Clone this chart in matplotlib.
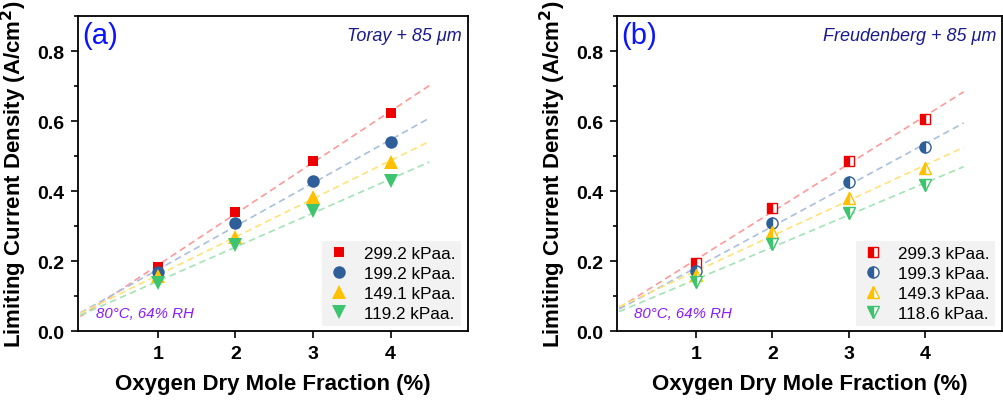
import numpy as np
import matplotlib
matplotlib.use("Agg")
import matplotlib.pyplot as plt
from matplotlib.ticker import MultipleLocator

# Oxygen dry mole fraction (%)
x_o2 = [1, 2, 3, 4]

# Panel (a): Toray + 85 um
labels_a = ["299.2 kPaa.", "199.2 kPaa.", "149.1 kPaa.", "119.2 kPaa."]
ilim_a_299 = [0.183, 0.340, 0.486, 0.623]
ilim_a_199 = [0.168, 0.308, 0.428, 0.540]
ilim_a_149 = [0.157, 0.270, 0.383, 0.483]
ilim_a_119 = [0.136, 0.246, 0.343, 0.428]

# Panel (b): Freudenberg + 85 um
labels_b = ["299.3 kPaa.", "199.3 kPaa.", "149.3 kPaa.", "118.6 kPaa."]
ilim_b_299 = [0.194, 0.351, 0.486, 0.606]
ilim_b_199 = [0.171, 0.309, 0.426, 0.526]
ilim_b_149 = [0.161, 0.283, 0.380, 0.466]
ilim_b_118 = [0.140, 0.248, 0.337, 0.417]

marker_colors = ["#ee0000", "#2f5f98", "#ffc000", "#3cc46e"]
fit_colors = ["#ff9a9a", "#a9c0dc", "#ffe37a", "#a3e3b6"]
markers = ["s", "o", "^", "v"]
marker_sizes = [7.5, 9, 9.5, 9.5]

plt.rcParams["font.family"] = ["Liberation Sans", "DejaVu Sans"]

fig = plt.figure(figsize=(10.04, 4.02), dpi=100)
ax_a = fig.add_axes([0.0777, 0.1741, 0.3885, 0.7836])
ax_b = fig.add_axes([0.6145, 0.1741, 0.3835, 0.7836])


def draw_panel(ax, series, labels, half_filled, tag, title):
    x = np.array(x_o2, dtype=float)
    xfit = np.linspace(0.0, 4.5, 50)
    for i, y in enumerate(series):
        y = np.array(y, dtype=float)
        k, b = np.polyfit(x, y, 1)
        ax.plot(xfit, k * xfit + b, ls=(0, (4, 2.5)), lw=1.2,
                color=fit_colors[i], zorder=1)
    for i, y in enumerate(series):
        if half_filled:
            ax.plot(x, y, ls="none", marker=markers[i],
                    ms=marker_sizes[i] - 1, fillstyle="left",
                    markerfacecolor=marker_colors[i],
                    markerfacecoloralt="white",
                    markeredgecolor=marker_colors[i], mew=1.0,
                    label=labels[i], zorder=3)
        else:
            ax.plot(x, y, ls="none", marker=markers[i], ms=marker_sizes[i],
                    color=marker_colors[i], mew=0, label=labels[i], zorder=3)

    ax.set_xlim(-0.03, 5.0)
    ax.set_ylim(0.0, 0.9)
    ax.set_xticks([1, 2, 3, 4])
    ax.yaxis.set_major_locator(MultipleLocator(0.2))
    ax.yaxis.set_minor_locator(MultipleLocator(0.1))
    ax.tick_params(axis="both", which="major", direction="out", length=5,
                   width=1.2, labelsize=14, pad=5)
    ax.tick_params(axis="y", which="minor", direction="out", length=3,
                   width=1.2)
    for lab in ax.get_xticklabels() + ax.get_yticklabels():
        lab.set_fontweight("bold")
    for sp in ax.spines.values():
        sp.set_linewidth(1.3)

    ax.set_xlabel("Oxygen Dry Mole Fraction (%)", fontsize=16,
                  fontweight="bold", labelpad=8)
    ax.set_ylabel("Limiting Current Density (A/cm$^\\mathbf{2}$)",
                  fontsize=16, fontweight="bold", labelpad=6)

    ax.text(0.01, 0.985, tag, transform=ax.transAxes, fontsize=21,
            color="#0a14ff", ha="left", va="top")
    ax.text(0.985, 0.965, title, transform=ax.transAxes, fontsize=13,
            color="#1a1a8c", style="italic", ha="right", va="top")
    ax.text(0.045, 0.035, "80°C, 64% RH", transform=ax.transAxes,
            fontsize=10.8, color="#8a1cff", style="italic",
            ha="left", va="bottom")

    leg = ax.legend(loc="lower right", fontsize=12.3, frameon=True,
                    fancybox=False, handletextpad=0.8, borderpad=0.3,
                    labelspacing=0.3, handlelength=1.4, borderaxespad=0,
                    bbox_to_anchor=(0.982, 0.015))
    leg.get_frame().set_facecolor("#f2f2f2")
    leg.get_frame().set_edgecolor("none")
    leg.get_frame().set_alpha(1.0)


draw_panel(ax_a, [ilim_a_299, ilim_a_199, ilim_a_149, ilim_a_119],
           labels_a, False, "(a)", "Toray + 85 μm")
draw_panel(ax_b, [ilim_b_299, ilim_b_199, ilim_b_149, ilim_b_118],
           labels_b, True, "(b)", "Freudenberg + 85 μm")

fig.savefig("out.png", dpi=100)
